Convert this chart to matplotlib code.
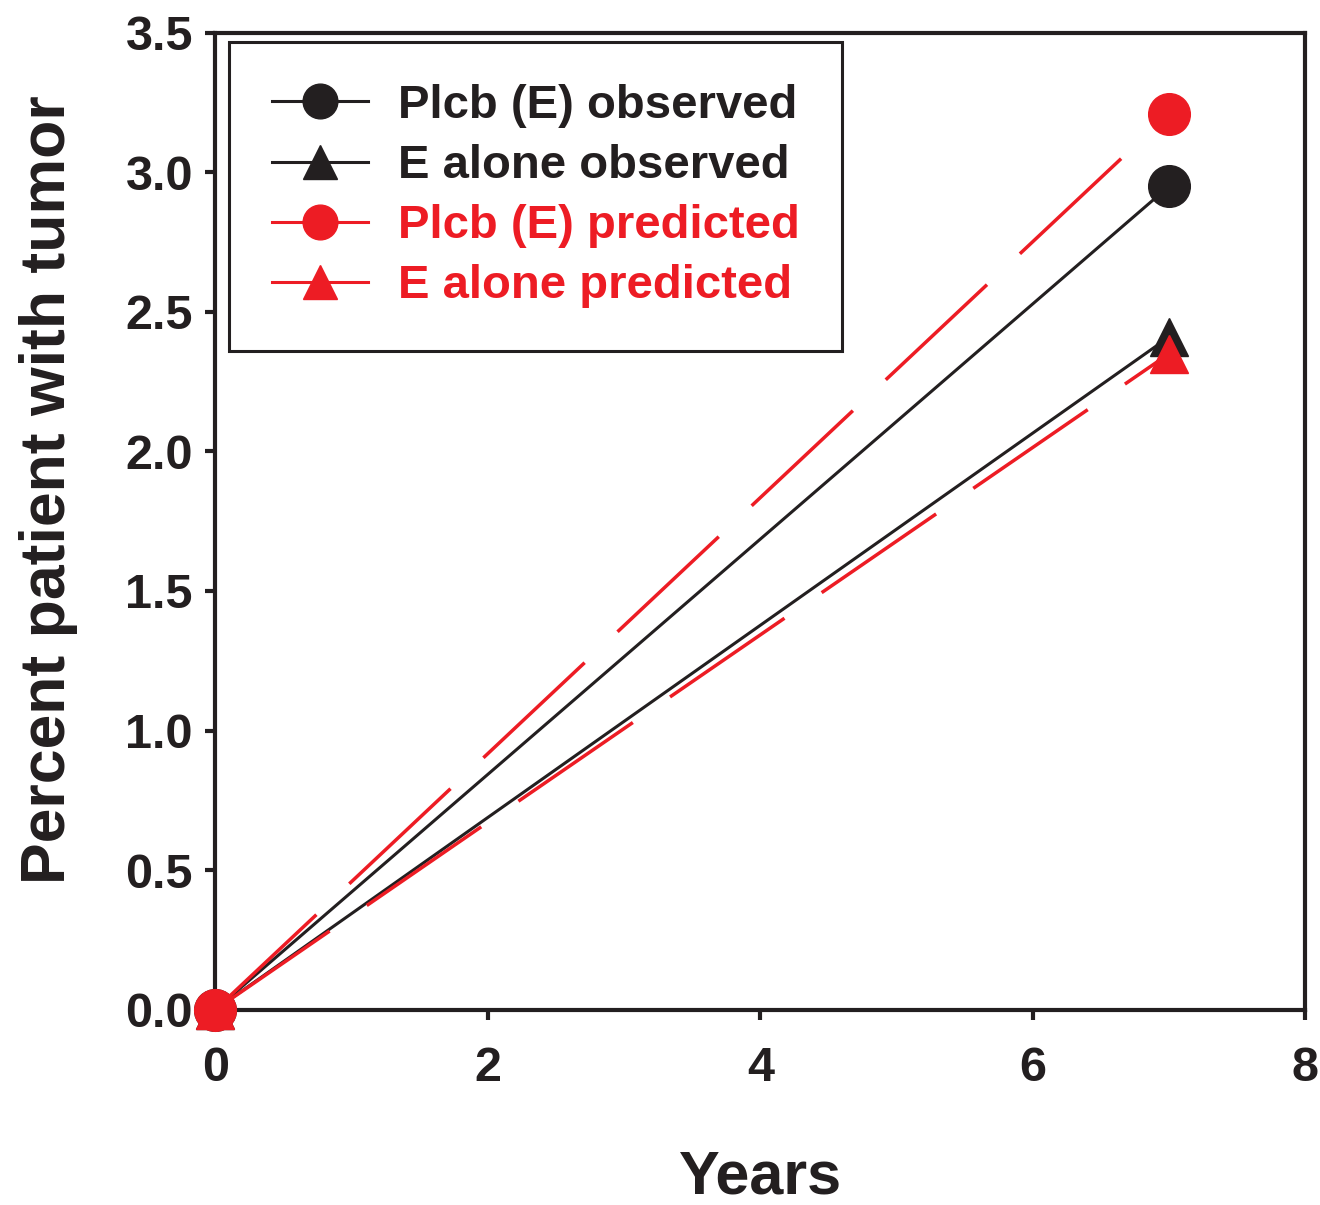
import matplotlib
matplotlib.use('Agg')
import matplotlib.pyplot as plt
from matplotlib.lines import Line2D

plt.rcParams['font.family'] = ['Liberation Sans', 'DejaVu Sans']
plt.rcParams['font.weight'] = 'bold'

years = [0, 7]
plcb_observed = [0, 2.95]
e_alone_observed = [0, 2.41]
plcb_predicted = [0, 3.21]
e_alone_predicted = [0, 2.35]

black = '#231f20'
red = '#ed1c24'

fig = plt.figure(figsize=(13.2, 12.05), dpi=100)
ax = fig.add_axes([0.163, 0.162, 0.826, 0.811])

ms = 30
dash = (0, (40, 13))
# triangles first so the circles sit on top at the origin
ax.plot(years, e_alone_observed, color=black, lw=2.2, marker='^', ms=ms - 2, clip_on=False, zorder=3)
ax.plot(years, plcb_observed, color=black, lw=2.2, marker='o', ms=ms, clip_on=False, zorder=3)
ax.plot(years, e_alone_predicted, color=red, lw=2.5, ls=dash, marker='^', ms=ms - 2, clip_on=False, zorder=4)
ax.plot(years, plcb_predicted, color=red, lw=2.5, ls=dash, marker='o', ms=ms, clip_on=False, zorder=4)

ax.set_xlim(0, 8)
ax.set_ylim(0, 3.5)
ax.set_xticks([0, 2, 4, 6, 8])
ax.set_yticks([0, 0.5, 1.0, 1.5, 2.0, 2.5, 3.0, 3.5])
ax.set_yticklabels(['0.0', '0.5', '1.0', '1.5', '2.0', '2.5', '3.0', '3.5'])
ax.tick_params(labelsize=35, width=3, length=7, colors=black)
ax.tick_params(axis='x', pad=19)
ax.tick_params(axis='y', pad=9)
for s in ax.spines.values():
    s.set_linewidth(3)
    s.set_color(black)

ax.set_xlabel('Years', fontsize=44, fontweight='bold', color=black, labelpad=42)
ax.set_ylabel('Percent patient with tumor', fontsize=45, fontweight='bold', color=black)
ax.yaxis.set_label_coords(-0.126, 0.532)

handles = [
    Line2D([], [], color=black, lw=2.2, marker='o', ms=25),
    Line2D([], [], color=black, lw=2.2, marker='^', ms=25),
    Line2D([], [], color=red, lw=2.2, marker='o', ms=25),
    Line2D([], [], color=red, lw=2.2, marker='^', ms=25),
]
labels = ['Plcb (E) observed', 'E alone observed', 'Plcb (E) predicted', 'E alone predicted']
leg = ax.legend(handles, labels, loc='upper left', bbox_to_anchor=(0.0128, 0.9908),
                fontsize=34, frameon=True, fancybox=False, edgecolor=black,
                handlelength=2.05, handletextpad=0.62, labelspacing=0.34,
                borderpad=0.9, borderaxespad=0)
leg.get_frame().set_linewidth(2.2)
leg.get_frame().set_alpha(None)
for t, c in zip(leg.get_texts(), [black, black, red, red]):
    t.set_color(c)

fig.savefig('out.png', dpi=100)
